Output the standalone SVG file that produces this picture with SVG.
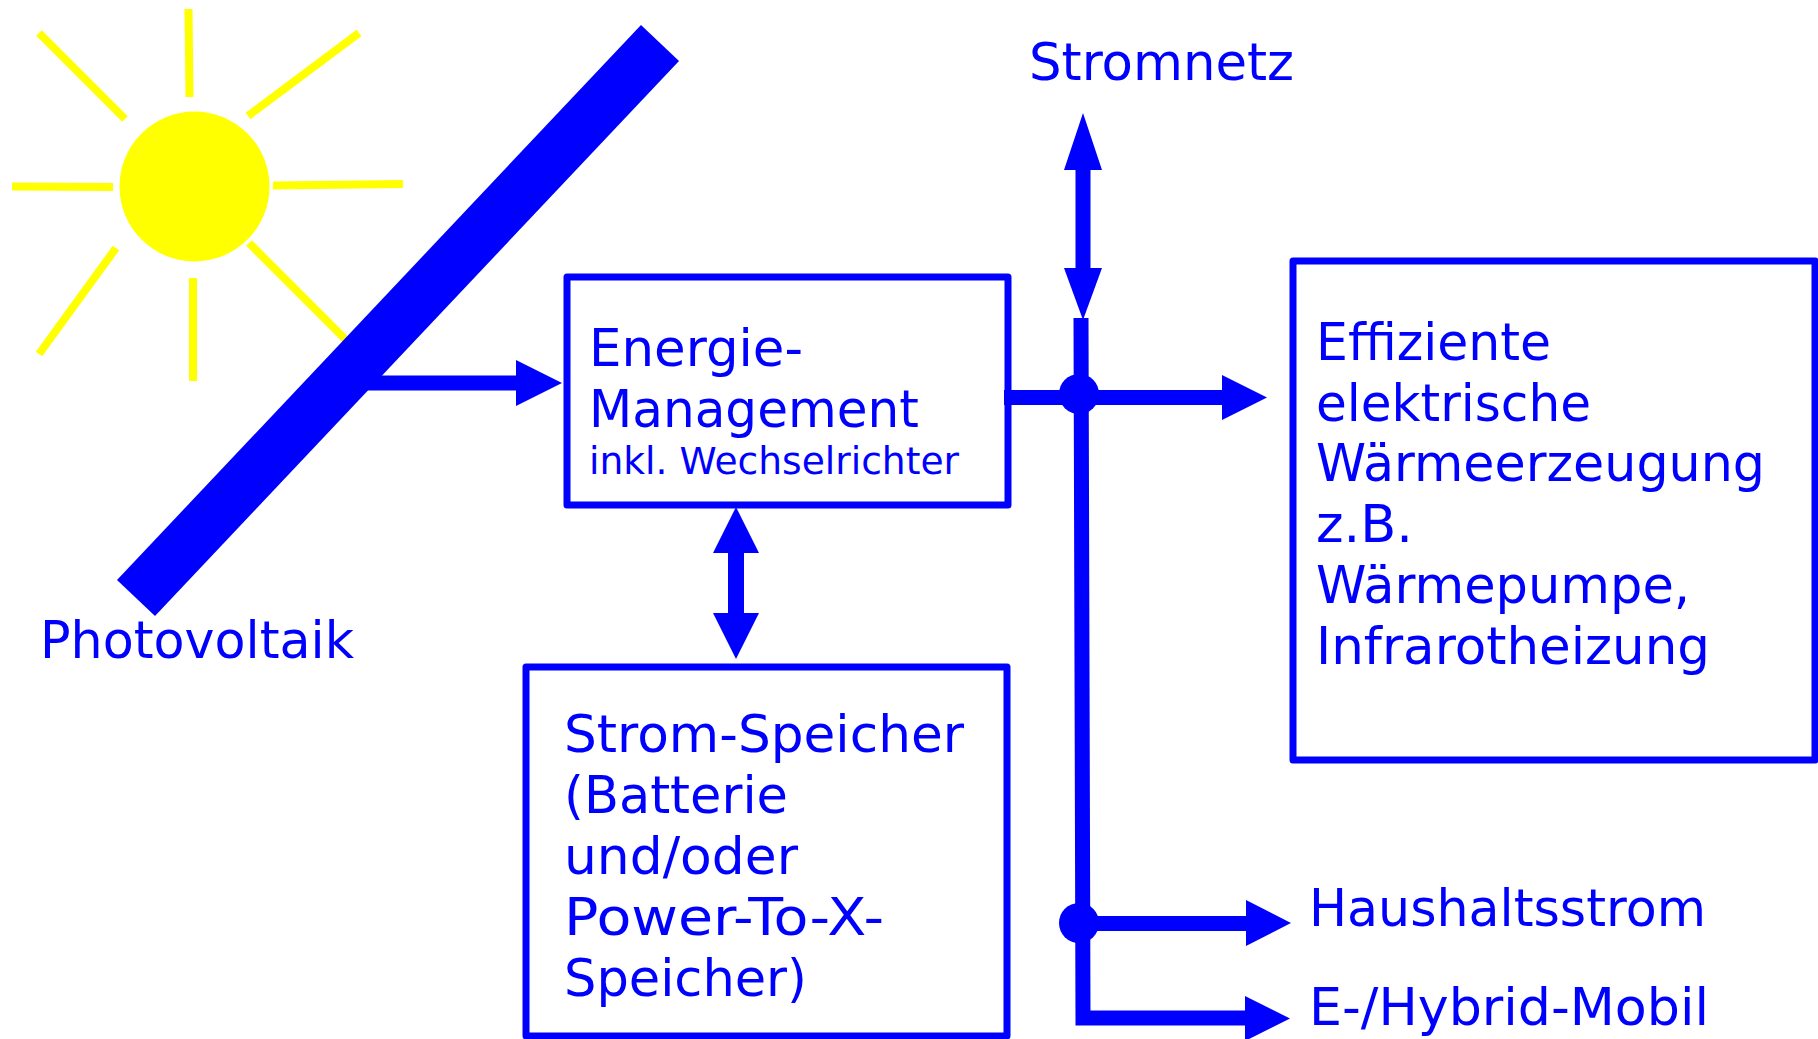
<svg xmlns="http://www.w3.org/2000/svg" width="1818" height="1039" viewBox="0 0 1818 1039">
<style>
text{font-family:"DejaVu Sans",Verdana,sans-serif;fill:#0000ff;font-size:52px}
.box{fill:none;stroke:#0000ff;stroke-width:7;stroke-linejoin:round}
.ray{stroke:#ffff00;stroke-width:8;fill:none}
.c{stroke:#0000ff;fill:none;stroke-width:15}
.h{fill:#0000ff}
</style>
<rect width="1818" height="1039" fill="#fff"/>
<g id="sun">
<circle cx="194.500" cy="186.500" r="75" fill="#ffff00"/>
<path class="ray" d="M188.500 9L189.500 97M39 33L125 119M359 33L248 116M12 186.500L113 187M273 185.500L403 184M116 248L39 354M193 278V381M249 243L346 340"/>
</g>
<g id="photovoltaik">
<polygon class="h" points="641,25 679,61 155,616 117,580"/>
<text x="40" y="658" textLength="314" lengthAdjust="spacingAndGlyphs">Photovoltaik</text>
</g>
<g id="energie">
<rect class="box" x="567" y="277" width="441" height="228"/>
<text x="589" y="366" textLength="214" lengthAdjust="spacingAndGlyphs">Energie-</text>
<text x="589" y="427" textLength="330" lengthAdjust="spacingAndGlyphs">Management</text>
<text x="589" y="474" style="font-size:37px" textLength="370" lengthAdjust="spacingAndGlyphs">inkl. Wechselrichter</text>
</g>
<g id="speicher">
<rect class="box" x="526" y="667" width="481" height="369"/>
<text x="564" y="752" textLength="400" lengthAdjust="spacingAndGlyphs">Strom-Speicher</text>
<text x="564" y="813" textLength="224" lengthAdjust="spacingAndGlyphs">(Batterie</text>
<text x="564" y="874" textLength="234" lengthAdjust="spacingAndGlyphs">und/oder</text>
<text x="564" y="935" textLength="320" lengthAdjust="spacingAndGlyphs">Power-To-X-</text>
<text x="564" y="996" textLength="243" lengthAdjust="spacingAndGlyphs">Speicher)</text>
</g>
<g id="waerme">
<rect class="box" x="1293" y="261" width="522" height="499"/>
<text x="1316" y="360" textLength="235" lengthAdjust="spacingAndGlyphs">Effiziente</text>
<text x="1316" y="421" textLength="275" lengthAdjust="spacingAndGlyphs">elektrische</text>
<text x="1316" y="481" textLength="449" lengthAdjust="spacingAndGlyphs">Wärmeerzeugung</text>
<text x="1316" y="542" textLength="97" lengthAdjust="spacingAndGlyphs">z.B.</text>
<text x="1316" y="603" textLength="374" lengthAdjust="spacingAndGlyphs">Wärmepumpe,</text>
<text x="1316" y="664" textLength="394" lengthAdjust="spacingAndGlyphs">Infrarotheizung</text>
</g>
<g id="stromnetz"><text x="1029" y="80" textLength="265" lengthAdjust="spacingAndGlyphs">Stromnetz</text></g>
<g id="haushalt"><text x="1309" y="926" textLength="397" lengthAdjust="spacingAndGlyphs">Haushaltsstrom</text></g>
<g id="mobil"><text x="1309" y="1025" textLength="400" lengthAdjust="spacingAndGlyphs">E-/Hybrid-Mobil</text></g>
<g id="connectors">
<path class="c" d="M366 383H520"/>
<polygon class="h" points="516,360 562,383 516,406"/>
<path class="c" style="stroke-width:16" d="M736 545V620"/>
<polygon class="h" points="736,507 759,553 713,553"/>
<polygon class="h" points="736,659 759,613 713,613"/>
<path class="c" d="M1083 160V275"/>
<polygon class="h" points="1083,113 1102,170 1064,170"/>
<polygon class="h" points="1083,320 1102,268 1064,268"/>
<path class="c" d="M1081 318L1083 1018H1250M1004 397.500H1225M1079 923.500H1250"/>
<circle class="h" cx="1079" cy="394" r="20"/>
<circle class="h" cx="1079" cy="923" r="20"/>
<polygon class="h" points="1222,375 1267,397.500 1222,420"/>
<polygon class="h" points="1246,900 1291,923 1246,946"/>
<polygon class="h" points="1245,996 1290,1018.500 1245,1041"/>
</g>
</svg>
